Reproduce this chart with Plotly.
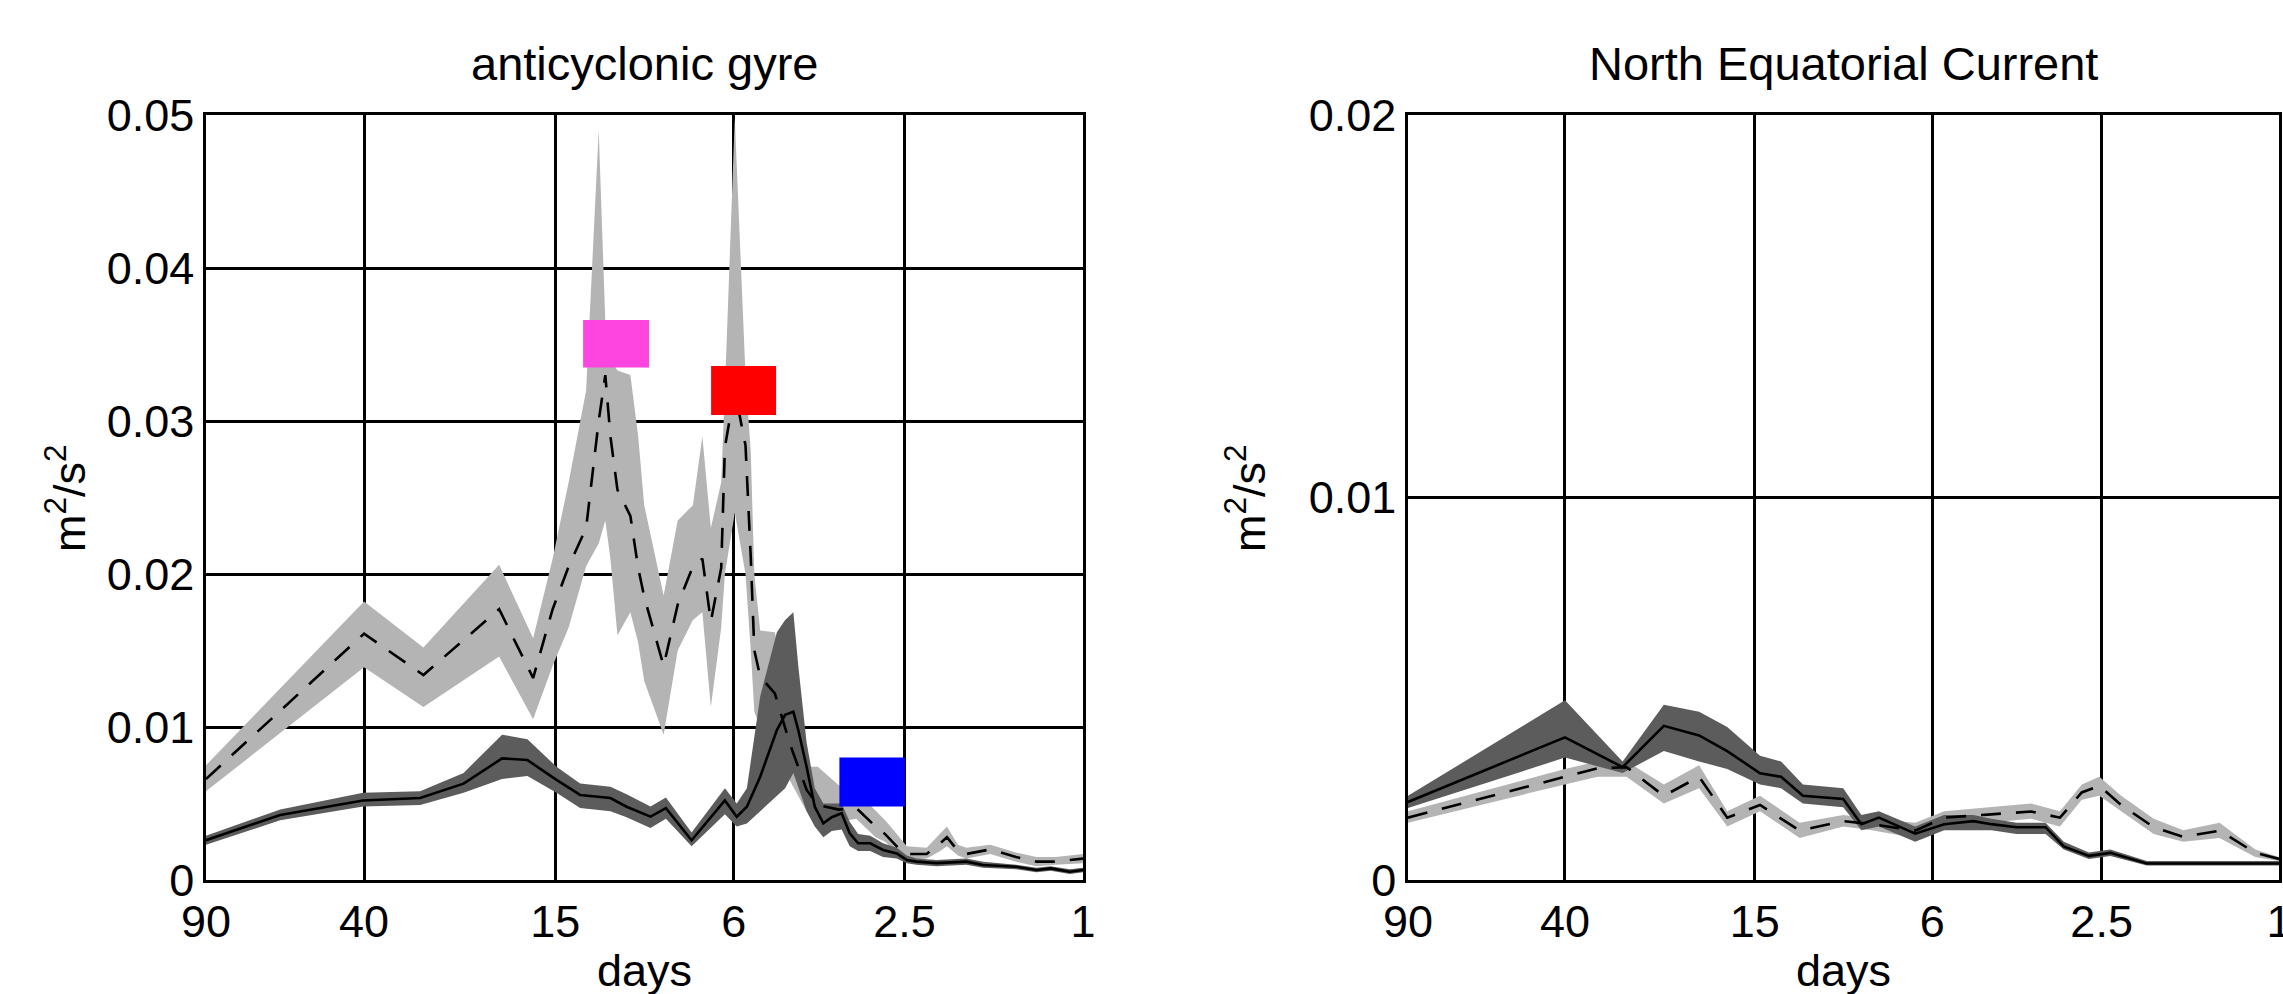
import numpy as np
import plotly.graph_objects as go

# ---------------- data: period (days), mean and spread envelope (m^2/s^2) ----------------
# anticyclonic gyre, light series (dashed mean)
gyre_light_days = [90, 40, 29.5, 20, 16.8, 15.2, 14.0, 12.8, 12.0, 11.6, 11.3, 10.9, 10.2, 9.8,
                   9.5, 8.6, 8.0, 7.4, 7.05, 6.75, 6.4, 6.28, 5.97, 5.65, 5.5, 5.4, 5.24, 4.86,
                   4.5, 4.13, 3.9, 3.5, 3.2, 2.9, 2.76, 2.6, 2.47, 2.23, 2.08, 2.01, 1.9, 1.82,
                   1.61, 1.41, 1.27, 1.15, 1.0]
gyre_light_mean = [0.0066, 0.0161, 0.0134, 0.0177, 0.0132, 0.0177, 0.0205, 0.0230, 0.0300, 0.0330,
                   0.0290, 0.0255, 0.0238, 0.0204, 0.0185, 0.0140, 0.0180, 0.0205, 0.0210, 0.0169,
                   0.0204, 0.0283, 0.0320, 0.0284, 0.0211, 0.0150, 0.0133, 0.0122, 0.0089, 0.0059,
                   0.0049, 0.0046, 0.0047, 0.0035, 0.0030, 0.0022, 0.0017, 0.0017, 0.0024, 0.0028,
                   0.0019, 0.0017, 0.0020, 0.0015, 0.0012, 0.0012, 0.0014]
gyre_light_lo = [0.0058, 0.0139, 0.0113, 0.0146, 0.0105, 0.0140, 0.0165, 0.0205, 0.0220, 0.0235,
                 0.0210, 0.0160, 0.0175, 0.0155, 0.0130, 0.0095, 0.0150, 0.0170, 0.0175, 0.0113,
                 0.0165, 0.0200, 0.0240, 0.0200, 0.0150, 0.0110, 0.0100, 0.0090, 0.0065, 0.0045,
                 0.0040, 0.0038, 0.0040, 0.0028, 0.0025, 0.0018, 0.0013, 0.0014, 0.0019, 0.0022,
                 0.0016, 0.0014, 0.0017, 0.0012, 0.0009, 0.0010, 0.0011]
gyre_light_hi = [0.0075, 0.0182, 0.0152, 0.0206, 0.0158, 0.0210, 0.0260, 0.0320, 0.0490, 0.0365,
                 0.0340, 0.0333, 0.0330, 0.0290, 0.0245, 0.0186, 0.0235, 0.0245, 0.0290, 0.0230,
                 0.0260, 0.0320, 0.0498, 0.0330, 0.0280, 0.0200, 0.0163, 0.0162, 0.0110, 0.0074,
                 0.0074, 0.0062, 0.0058, 0.0045, 0.0039, 0.0030, 0.0022, 0.0021, 0.0030, 0.0035,
                 0.0023, 0.0021, 0.0023, 0.0018, 0.0015, 0.0015, 0.0017]

# anticyclonic gyre, dark series (solid mean)
gyre_dark_days = [90, 61.5, 40.2, 30, 24, 19.7, 17.3, 14.9, 13.2, 11.3, 10.4, 9.2, 8.5, 7.45,
                  6.28, 5.91, 5.61, 5.24, 4.81, 4.61, 4.42, 4.31, 4.13, 3.96, 3.79, 3.63, 3.45,
                  3.31, 3.17, 2.98, 2.79, 2.60, 2.47, 2.35, 2.12, 1.82, 1.67, 1.41, 1.27, 1.18,
                  1.07, 1.0]
gyre_dark_mean = [0.0026, 0.00425, 0.0052, 0.00536, 0.0063, 0.00795, 0.00784, 0.00654, 0.00556,
                  0.00536, 0.00479, 0.00414, 0.0047, 0.0026, 0.0052, 0.00414, 0.00479, 0.00675,
                  0.0098, 0.0108, 0.0110, 0.0098, 0.0074, 0.00479, 0.0037, 0.0041, 0.00436,
                  0.00305, 0.0024, 0.0024, 0.00196, 0.00174, 0.00131, 0.0012, 0.0011, 0.0012,
                  0.00098, 0.00087, 0.00065, 0.00076, 0.00054, 0.00065]
gyre_dark_lo = [0.0023, 0.0039, 0.0048, 0.0049, 0.0057, 0.0066, 0.0068, 0.0057, 0.0047, 0.0045,
                0.0041, 0.0034, 0.0040, 0.0022, 0.0043, 0.0035, 0.0037, 0.0045, 0.0055, 0.0060,
                0.0070, 0.0060, 0.0045, 0.0035, 0.0028, 0.0032, 0.0033, 0.0022, 0.0019, 0.0019,
                0.0015, 0.0014, 0.0011, 0.0010, 0.0009, 0.0010, 0.0008, 0.0007, 0.0005, 0.0006,
                0.0004, 0.0005]
gyre_dark_hi = [0.0029, 0.0046, 0.0057, 0.0058, 0.0070, 0.0095, 0.0092, 0.0074, 0.0063, 0.0061,
                0.0056, 0.0048, 0.0054, 0.0031, 0.0060, 0.0050, 0.0060, 0.0120, 0.0162, 0.0170,
                0.0175, 0.0140, 0.0090, 0.0060, 0.0050, 0.0050, 0.0050, 0.0038, 0.0030, 0.0029,
                0.0024, 0.0021, 0.0016, 0.0014, 0.0013, 0.0014, 0.0012, 0.0010, 0.0008, 0.0009,
                0.0007, 0.0008]

# North Equatorial Current, light series (dashed mean)
nec_light_days = [90, 40, 33.8, 29.1, 24.0, 20.0, 17.3, 14.6, 11.9, 9.5, 8.2, 6.55, 5.64, 4.5,
                  3.6, 3.10, 2.77, 2.53, 2.26, 1.91, 1.64, 1.36, 1.13, 1.0]
nec_light_mean = [0.00163, 0.0027, 0.00292, 0.00295, 0.0022, 0.0027, 0.00163, 0.00196, 0.00129,
                  0.00154, 0.00146, 0.00129, 0.00163, 0.00171, 0.00179, 0.00163, 0.00229, 0.00246,
                  0.00196, 0.00138, 0.00113, 0.00129, 0.00071, 0.00055]
nec_light_lo = [0.0015, 0.0025, 0.0027, 0.0027, 0.0020, 0.0024, 0.0014, 0.0018, 0.0011, 0.0014,
                0.0013, 0.0011, 0.0015, 0.0015, 0.0016, 0.0014, 0.0021, 0.0022, 0.0018, 0.0012,
                0.0010, 0.0011, 0.0006, 0.0005]
nec_light_hi = [0.0018, 0.0029, 0.0031, 0.0031, 0.0025, 0.0030, 0.0018, 0.0022, 0.0015, 0.0017,
                0.0016, 0.0015, 0.0018, 0.0019, 0.0020, 0.0018, 0.0025, 0.0027, 0.0022, 0.0016,
                0.0013, 0.0015, 0.0008, 0.0006]

# North Equatorial Current, dark series (solid mean)
nec_dark_days = [90, 40, 29.7, 24.0, 20.0, 17.3, 14.6, 13.1, 11.7, 9.5, 8.65, 7.9, 6.55, 5.64,
                 4.85, 4.42, 3.88, 3.34, 3.04, 2.67, 2.39, 1.98, 1.52, 1.0]
nec_dark_mean = [0.00204, 0.00373, 0.00295, 0.00403, 0.00378, 0.00337, 0.00279, 0.0027, 0.0022,
                 0.00212, 0.00146, 0.00163, 0.00121, 0.00146, 0.00154, 0.00146, 0.00138, 0.00138,
                 0.00088, 0.00063, 0.00071, 0.00043, 0.00043, 0.00043]
nec_dark_lo = [0.00188, 0.0032, 0.0028, 0.00337, 0.0031, 0.0029, 0.0025, 0.0024, 0.0020, 0.0019,
               0.0013, 0.0014, 0.0010, 0.0013, 0.0013, 0.0013, 0.0012, 0.0012, 0.0008, 0.00055,
               0.00063, 0.00038, 0.00038, 0.00038]
nec_dark_hi = [0.0022, 0.0047, 0.0031, 0.00458, 0.0044, 0.0040, 0.00325, 0.0031, 0.0025, 0.0024,
               0.0017, 0.0018, 0.0014, 0.0017, 0.0017, 0.0016, 0.0015, 0.0015, 0.0010, 0.00072,
               0.0008, 0.0005, 0.0005, 0.0005]

# highlighted period/energy ranges in the gyre panel: (days_from, days_to, low, high, colour)
gyre_highlights = [
    (13.0, 9.27, 0.0335, 0.0366, "#ff45df"),
    (6.74, 4.83, 0.0304, 0.0336, "#ff0000"),
    (3.49, 2.49, 0.0048, 0.0080, "#0000ff"),
]

period_ticks = [90, 40, 15, 6, 2.5, 1]
period_labels = ["90", "40", "15", "6", "2.5", "1"]
gyre_yticks = [0, 0.01, 0.02, 0.03, 0.04, 0.05]
gyre_ylabels = ["0", "0.01", "0.02", "0.03", "0.04", "0.05"]
nec_yticks = [0, 0.01, 0.02]
nec_ylabels = ["0", "0.01", "0.02"]

# ---------------- styling ----------------
FONT = "Liberation Sans, Arial, Helvetica, sans-serif"
FS = 45
LIGHT = "rgb(180,180,180)"
DARK = "rgb(92,92,92)"
W, H = 2283, 994


def band(days, lo, hi, color, xa, ya):
    return go.Scatter(x=list(days) + list(days)[::-1], y=list(hi) + list(lo)[::-1],
                      fill="toself", fillcolor=color, mode="lines", line=dict(width=0),
                      hoverinfo="skip", showlegend=False, xaxis=xa, yaxis=ya)


def line(days, mean, dash, xa, ya):
    return go.Scatter(x=days, y=mean, mode="lines",
                      line=dict(color="black", width=2.6, dash=dash),
                      showlegend=False, xaxis=xa, yaxis=ya)


fig = go.Figure()

# gyre panel
fig.add_trace(band(gyre_light_days, gyre_light_lo, gyre_light_hi, LIGHT, "x", "y"))
fig.add_trace(band(gyre_dark_days, gyre_dark_lo, gyre_dark_hi, DARK, "x", "y"))
fig.add_trace(line(gyre_light_days, gyre_light_mean, "20px,15px", "x", "y"))
fig.add_trace(line(gyre_dark_days, gyre_dark_mean, "solid", "x", "y"))
for d0, d1, v0, v1, col in gyre_highlights:
    fig.add_trace(go.Scatter(x=[d0, d1, d1, d0, d0], y=[v0, v0, v1, v1, v0], fill="toself",
                             fillcolor=col, mode="lines", line=dict(width=0),
                             showlegend=False, hoverinfo="skip", xaxis="x", yaxis="y"))

# NEC panel
fig.add_trace(band(nec_light_days, nec_light_lo, nec_light_hi, LIGHT, "x2", "y2"))
fig.add_trace(band(nec_dark_days, nec_dark_lo, nec_dark_hi, DARK, "x2", "y2"))
fig.add_trace(line(nec_light_days, nec_light_mean, "20px,15px", "x2", "y2"))
fig.add_trace(line(nec_dark_days, nec_dark_mean, "solid", "x2", "y2"))

# pixel geometry of the two panels
L1, R1 = 206, 1083
L2, R2 = 1408, 2279
TOP, BOT = 115, 880

common_x = dict(type="log", range=[np.log10(90), 0], tickvals=period_ticks, ticktext=period_labels,
                showgrid=True, gridcolor="black", gridwidth=2.5, showline=True, mirror=True,
                linecolor="black", linewidth=2.5, zeroline=False, ticks="", automargin=False,
                ticklabeloverflow="allow",
                tickfont=dict(family=FONT, size=FS, color="black"))
common_y = dict(showgrid=True, gridcolor="black", gridwidth=2.5, showline=True, mirror=True,
                linecolor="black", linewidth=2.5, zeroline=False, ticks="", automargin=False,
                ticklabeloverflow="allow",
                tickfont=dict(family=FONT, size=FS, color="black"))

fig.update_layout(
    width=W, height=H, margin=dict(l=0, r=0, t=0, b=0, autoexpand=False),
    paper_bgcolor="white", plot_bgcolor="white",
    font=dict(family=FONT, size=FS, color="black"),
    xaxis=dict(domain=[L1 / W, R1 / W], anchor="y", **common_x),
    yaxis=dict(domain=[1 - BOT / H, 1 - TOP / H], anchor="x", range=[0, 0.05],
               tickvals=gyre_yticks, ticktext=gyre_ylabels, **common_y),
    xaxis2=dict(domain=[L2 / W, R2 / W], anchor="y2", **common_x),
    yaxis2=dict(domain=[1 - BOT / H, 1 - TOP / H], anchor="x2", range=[0, 0.02],
                tickvals=nec_yticks, ticktext=nec_ylabels, **common_y),
)

ann = []
for cx, title in [((L1 + R1) / 2, "anticyclonic gyre"), ((L2 + R2) / 2, "North Equatorial Current")]:
    ann.append(dict(x=cx / W, y=1 - 64 / H, xref="paper", yref="paper", text=title,
                    showarrow=False, xanchor="center", yanchor="middle",
                    font=dict(family=FONT, size=FS + 2, color="black")))
    ann.append(dict(x=cx / W, y=1 - 970 / H, xref="paper", yref="paper", text="days",
                    showarrow=False, xanchor="center", yanchor="middle",
                    font=dict(family=FONT, size=FS, color="black")))
for cx in [66, 1246]:
    ann.append(dict(x=cx / W, y=1 - 498 / H, xref="paper", yref="paper",
                    text="m<sup>2</sup>/s<sup>2</sup>", textangle=-90, showarrow=False,
                    xanchor="center", yanchor="middle",
                    font=dict(family=FONT, size=FS, color="black")))
fig.update_layout(annotations=ann)

fig.write_html("out.html")
